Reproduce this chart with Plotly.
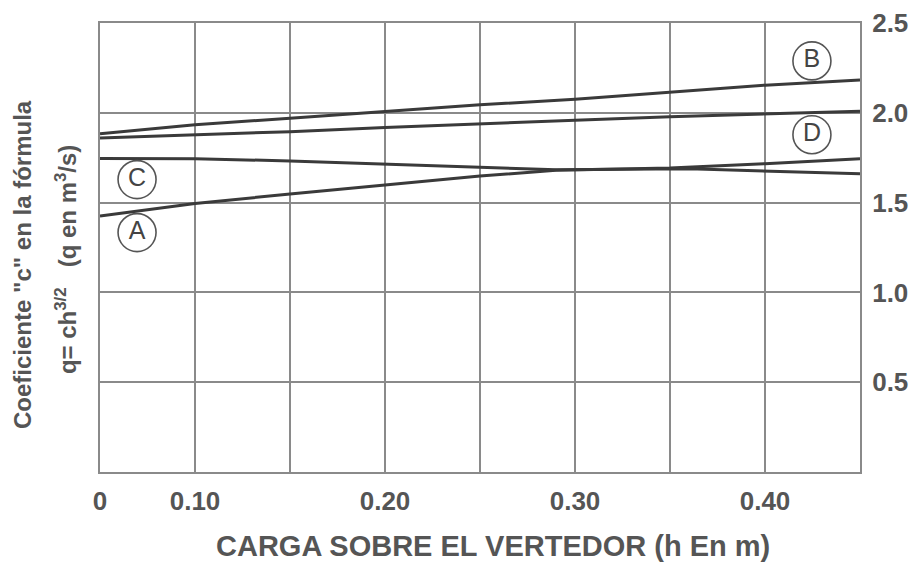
import plotly.graph_objects as go

# ---- data ----
x_common = [0.05, 0.10, 0.15, 0.20, 0.25, 0.30, 0.35, 0.40, 0.45]
curve_B = [1.883, 1.934, 1.970, 2.009, 2.045, 2.075, 2.115, 2.154, 2.182]
curve_D = [1.860, 1.877, 1.895, 1.918, 1.940, 1.959, 1.978, 1.994, 2.009]

x_A = [0.05, 0.10, 0.15, 0.20, 0.25, 0.29, 0.35, 0.40, 0.45]
curve_A = [1.425, 1.495, 1.548, 1.600, 1.648, 1.680, 1.692, 1.717, 1.744]

x_C = [0.05, 0.10, 0.15, 0.20, 0.25, 0.29, 0.36, 0.40, 0.45]
curve_C = [1.746, 1.744, 1.732, 1.714, 1.698, 1.683, 1.688, 1.676, 1.661]

label_names = ["B", "D", "C", "A"]
label_x = [0.4247, 0.4247, 0.0695, 0.0695]
label_y = [2.289, 1.878, 1.628, 1.333]

x_tickvals = [0.05, 0.10, 0.15, 0.20, 0.25, 0.30, 0.35, 0.40, 0.45]
x_ticktext = ["0", "0.10", "", "0.20", "", "0.30", "", "0.40", ""]
y_tickvals = [0.5, 1.0, 1.5, 2.0, 2.5]
y_ticktext = ["0.5", "1.0", "1.5", "2.0", "2.5"]

LINE = "#3a3a3a"
GRID = "#8a8a8a"
TXT = "#555555"
FONT = "Liberation Sans, Arial, sans-serif"

fig = go.Figure()
for xs, ys in [(x_common, curve_B), (x_common, curve_D), (x_A, curve_A), (x_C, curve_C)]:
    fig.add_trace(go.Scatter(x=xs, y=ys, mode="lines",
                             line=dict(color=LINE, width=3), showlegend=False,
                             hoverinfo="skip"))

fig.add_trace(go.Scatter(
    x=label_x, y=label_y, mode="markers+text", text=label_names,
    textposition="middle center",
    textfont=dict(family=FONT, size=25, color="#444444"),
    marker=dict(symbol="circle-open", size=38, color="#555555",
                line=dict(color="#555555", width=1.6)),
    showlegend=False, hoverinfo="skip"))

fig.update_layout(
    width=908, height=557,
    margin=dict(l=92, r=56, t=15, b=93, autoexpand=False),
    paper_bgcolor="white", plot_bgcolor="white",
    font=dict(family=FONT, color=TXT),
    xaxis=dict(range=[0.05, 0.45], tickvals=x_tickvals, ticktext=x_ticktext,
               showgrid=True, gridcolor=GRID, gridwidth=2,
               showline=True, linecolor=GRID, linewidth=2, mirror=True,
               zeroline=False, ticks="", ticklabelstandoff=5, automargin=False,
               ticklabeloverflow="allow",
               tickfont=dict(family=FONT, size=26, color=TXT, weight="bold")),
    yaxis=dict(range=[0, 2.5], side="right", tickvals=y_tickvals,
               ticktext=y_ticktext, showgrid=True, gridcolor=GRID, gridwidth=2,
               showline=True, linecolor=GRID, linewidth=2, mirror=True,
               zeroline=False, ticks="", ticklabelstandoff=5, automargin=False,
               ticklabeloverflow="allow",
               tickfont=dict(family=FONT, size=26, color=TXT, weight="bold")),
)

fig.add_annotation(text='Coeficiente "c" en la fórmula', xref="paper", yref="paper",
                   x=0, y=0.461, xshift=-78, xanchor="center", yanchor="middle",
                   textangle=-90, showarrow=False,
                   font=dict(family=FONT, size=24, color=TXT, weight="bold"))
fig.add_annotation(text="q= ch<sup>3/2</sup>   (q en m<sup>3</sup>/s)",
                   xref="paper", yref="paper",
                   x=0, y=0.472, xshift=-34, xanchor="center", yanchor="middle",
                   textangle=-90, showarrow=False,
                   font=dict(family=FONT, size=24, color=TXT, weight="bold"))
fig.add_annotation(text="CARGA SOBRE EL VERTEDOR (h En m)", xref="paper", yref="paper",
                   x=0.517, y=0, yshift=-92, xanchor="center", yanchor="bottom",
                   showarrow=False,
                   font=dict(family=FONT, size=29, color=TXT, weight="bold"))

fig.write_html("out.html")
